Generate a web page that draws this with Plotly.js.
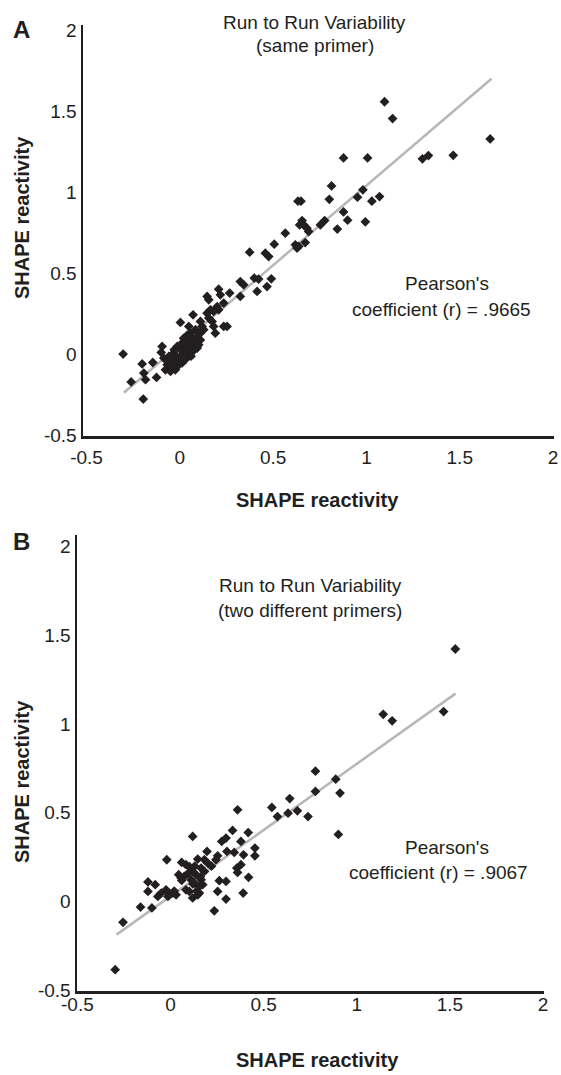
<!DOCTYPE html>
<html>
<head>
<meta charset="utf-8">
<script src="https://cdn.plot.ly/plotly-3.0.1.min.js"></script>
<style>html,body{margin:0;padding:0;background:#fff;}#chart{width:561px;height:1075px;}</style>
</head>
<body>
<div id="chart"></div>
<script>
// ---- Data: panel A (same primer) ----
var panelA_x = [1.097,1.140,1.663,1.300,1.332,1.465,0.877,1.006,0.813,0.633,0.649,0.801,0.981,0.952,1.029,1.070,0.877,0.899,0.994,0.844,0.776,0.753,0.655,0.664,0.681,0.690,0.642,0.565,0.506,0.619,0.637,0.628,0.672,0.458,0.476,
  0.374,0.399,0.422,0.490,0.467,0.414,0.324,0.342,0.324,0.267,0.208,0.217,0.146,0.155,0.235,0.200,0.208,0.181,0.164,0.146,0.155,0.173,0.181,0.190,0.235,0.253,0.071,0.110,0.119,0.003,0.048,
  0.084,0.057,0.093,0.039,0.075,0.012,0.101,-0.014,0.048,0.021,-0.033,0.003,-0.050,-0.014,-0.068,-0.041,-0.077,-0.024,-0.059,0.030,0.066,0.110,0.128,0.003,-0.024,0.039,0.066,0.093,0.012,-0.050,-0.014,-0.095,-0.100,-0.086,
  0.02,0.05,-0.03,0.00,-0.06,0.07,0.04,-0.02,0.11,0.06,-0.04,0.03,
  -0.304,-0.202,-0.145,-0.193,-0.184,-0.125,-0.261,-0.196];
var panelA_y = [1.558,1.454,1.329,1.206,1.226,1.228,1.212,1.212,1.039,0.945,0.945,0.957,1.015,0.970,0.945,0.974,0.879,0.828,0.818,0.773,0.826,0.799,0.826,0.799,0.779,0.758,0.799,0.748,0.680,0.676,0.666,0.656,0.690,0.625,0.604,
  0.631,0.471,0.465,0.467,0.419,0.389,0.450,0.430,0.358,0.379,0.403,0.368,0.358,0.337,0.317,0.296,0.276,0.266,0.276,0.255,0.225,0.204,0.173,0.132,0.173,0.173,0.245,0.204,0.173,0.198,0.173,
  0.153,0.132,0.111,0.091,0.080,0.071,0.060,0.050,0.040,0.019,0.009,-0.012,-0.032,-0.042,-0.063,-0.083,-0.094,-0.094,-0.012,0.050,0.101,0.132,0.153,0.030,-0.012,0.009,0.050,0.040,-0.052,-0.104,-0.073,0.050,0.013,-0.022,
  0.10,0.06,0.03,-0.03,-0.05,0.02,0.12,-0.06,0.09,-0.01,-0.02,-0.03,
  0.003,-0.058,-0.049,-0.114,-0.155,-0.141,-0.169,-0.274];
var fitA_x = [-0.30, 1.67];
var fitA_y = [-0.235, 1.70];

// ---- Data: panel B (two different primers) ----
var panelB_x = [1.529,1.466,1.142,1.190,0.778,0.887,0.778,0.910,0.640,0.544,0.574,0.631,0.681,0.738,0.901,0.417,0.378,0.392,0.453,0.453,0.360,0.119,0.333,0.298,0.275,0.196,0.253,0.244,0.303,0.342,
  0.146,0.182,0.200,-0.020,0.060,0.083,0.101,0.164,0.182,0.137,0.119,0.356,0.378,0.360,0.419,0.044,0.057,0.074,0.096,0.110,0.128,0.164,0.173,0.155,0.262,0.298,
  -0.121,-0.082,-0.121,-0.050,-0.024,-0.006,0.012,-0.068,-0.014,0.030,0.083,0.101,0.119,0.146,0.155,0.253,0.298,0.390,0.235,-0.161,-0.100,-0.255,-0.297,
  0.02,0.12,0.16,0.06,0.22,0.14,0.13];
var panelB_y = [1.421,1.069,1.054,1.017,0.734,0.689,0.620,0.611,0.580,0.530,0.479,0.498,0.511,0.479,0.378,0.389,0.339,0.264,0.302,0.258,0.517,0.367,0.401,0.358,0.339,0.283,0.258,0.236,0.283,0.277,
  0.240,0.236,0.217,0.236,0.221,0.208,0.198,0.189,0.170,0.152,0.170,0.189,0.208,0.165,0.137,0.152,0.133,0.142,0.161,0.124,0.105,0.124,0.096,0.086,0.118,0.114,
  0.111,0.096,0.058,0.049,0.067,0.039,0.049,0.030,0.030,0.039,0.067,0.058,0.021,0.039,0.049,0.058,0.015,0.049,-0.051,-0.030,-0.035,-0.116,-0.382,
  0.06,0.10,0.14,0.12,0.20,0.06,0.20];
var fitB_x = [-0.29, 1.53];
var fitB_y = [-0.185, 1.17];

// ---- Text ----
var tickVals = [-0.5, 0, 0.5, 1, 1.5, 2];
var tickText = ["-0.5", "0", "0.5", "1", "1.5", "2"];
var axisTitle = "SHAPE reactivity";
var titleLine1 = "Run to Run Variability";
var titleA2 = "(same primer)";
var titleB2 = "(two different primers)";
var pearsonLine1 = "Pearson's";
var pearsonA = "coefficient (r) = .9665";
var pearsonB = "coefficient (r) = .9067";

var W = 561, H = 1075;
var INK = '#231f20';
var FONT = 'Liberation Sans, Arial, Helvetica, sans-serif';
function px(x) { return x / W; }
function py(y) { return 1 - y / H; }

var markerStyle = { symbol: 'diamond', size: 7.5, color: INK, line: { width: 0 } };
var lineStyle = { color: '#b7b7b7', width: 2.5 };

var data = [
  { x: fitA_x, y: fitA_y, mode: 'lines', line: lineStyle, xaxis: 'x', yaxis: 'y', hoverinfo: 'skip' },
  { x: panelA_x, y: panelA_y, mode: 'markers', marker: markerStyle, xaxis: 'x', yaxis: 'y' },
  { x: fitB_x, y: fitB_y, mode: 'lines', line: lineStyle, xaxis: 'x2', yaxis: 'y2', hoverinfo: 'skip' },
  { x: panelB_x, y: panelB_y, mode: 'markers', marker: markerStyle, xaxis: 'x2', yaxis: 'y2' }
];

function axis(extra) {
  var a = {
    showline: true, linecolor: INK, linewidth: 2.5, showgrid: false, zeroline: false,
    tickmode: 'array', tickvals: tickVals, ticktext: tickText,
    tickfont: { family: FONT, size: 19, color: INK }, fixedrange: true
  };
  for (var k in extra) a[k] = extra[k];
  return a;
}

var layout = {
  width: W, height: H,
  margin: { l: 0, r: 0, t: 0, b: 0 },
  paper_bgcolor: '#fff', plot_bgcolor: '#fff',
  showlegend: false,
  xaxis: axis({ domain: [px(83), px(554)], range: [-0.519, 2.005], anchor: 'y', ticks: 'outside', ticklen: 3, tickcolor: 'rgba(0,0,0,0)' }),
  yaxis: axis({ domain: [py(436), py(25)], range: [-0.502, 2.031], anchor: 'x', ticks: '' }),
  xaxis2: axis({ domain: [px(77), px(544)], range: [-0.502, 2.005], anchor: 'y2', ticks: '', ticklabelstandoff: -5 }),
  yaxis2: axis({ domain: [py(991), py(535)], range: [-0.502, 2.062], anchor: 'x2', ticks: '' }),
  annotations: []
};

function note(text, x, y, opts) {
  var a = { text: text, x: px(x), y: py(y), xref: 'paper', yref: 'paper', showarrow: false,
    xanchor: 'center', yanchor: 'middle', font: { family: FONT, size: 19, color: INK } };
  if (opts) for (var k in opts) a[k] = opts[k];
  layout.annotations.push(a);
}
var bold = function (s) { return { family: FONT, size: s, color: INK, weight: 'bold' }; };

note('<b>A</b>', 21, 29, { font: bold(24) });
note('<b>B</b>', 21, 541, { font: bold(24) });
note(titleLine1, 314, 22);
note(titleA2, 315, 46);
note(titleLine1, 310, 585);
note(titleB2, 310, 610);
note(pearsonLine1, 447, 283);
note(pearsonA, 441, 309);
note(pearsonLine1, 447, 847);
note(pearsonB, 439, 872);
note('<b>' + axisTitle + '</b>', 317, 500, { font: bold(20) });
note('<b>' + axisTitle + '</b>', 317, 1060, { font: bold(20) });
note('<b>' + axisTitle + '</b>', 22, 218, { font: bold(20), textangle: -90 });
note('<b>' + axisTitle + '</b>', 22, 782, { font: bold(20), textangle: -90 });

Plotly.newPlot('chart', data, layout, { staticPlot: true, displayModeBar: false });
</script>
</body>
</html>
